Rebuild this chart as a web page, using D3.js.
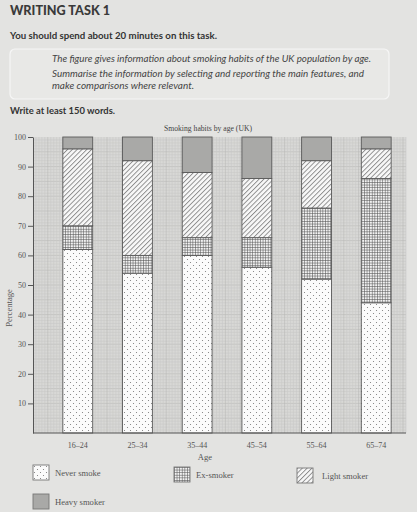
<!DOCTYPE html>
<html>
<head>
<meta charset="utf-8">
<script src="https://cdn.jsdelivr.net/npm/d3@7"></script>
<style>
  html, body { margin: 0; padding: 0; background: #e3e3e1; }
  svg { display: block; }
</style>
</head>
<body>
<svg id="chart" width="417" height="512"></svg>
<script>
// Data (percent of each age group)
const ages = ["16–24", "25–34", "35–44", "45–54", "55–64", "65–74"];
const neverSmoke = [62, 54, 60, 56, 52, 44];
const exSmoker = [8, 6, 6, 10, 24, 42];
const lightSmoker = [26, 32, 22, 20, 16, 10];
const heavySmoker = [4, 8, 12, 14, 8, 4];
const yTicks = [10, 20, 30, 40, 50, 60, 70, 80, 90, 100];
const seriesNames = ["Never smoke", "Ex-smoker", "Light smoker", "Heavy smoker"];

const svg = d3.select("#chart");
const serif = "'Liberation Serif', 'DejaVu Serif', serif";
const sans = "Lato, 'Open Sans', sans-serif";

// Page header
svg.append("text")
  .attr("x", 10).attr("y", 15)
  .attr("font-family", sans).attr("font-weight", 900)
  .attr("font-size", 13).attr("fill", "#3a3a3a")
  .attr("textLength", 100).attr("lengthAdjust", "spacingAndGlyphs")
  .text("WRITING TASK 1");

svg.append("text")
  .attr("x", 10).attr("y", 39)
  .attr("font-family", sans).attr("font-weight", 700)
  .attr("font-size", 9.3).attr("fill", "#333")
  .attr("textLength", 207).attr("lengthAdjust", "spacingAndGlyphs")
  .text("You should spend about 20 minutes on this task.");

svg.append("rect")
  .attr("x", 10).attr("y", 49).attr("width", 379).attr("height", 50)
  .attr("rx", 5)
  .attr("fill", "#e8e8e6").attr("stroke", "#f6f6f6").attr("stroke-width", 1.2);

const prompt = [
  "The figure gives information about smoking habits of the UK population by age.",
  "Summarise the information by selecting and reporting the main features, and",
  "make comparisons where relevant."
];
const promptY = [62, 77, 89];
const promptW = [319, 312, 142];
svg.selectAll(".prompt")
  .data(prompt)
  .join("text")
  .attr("class", "prompt")
  .attr("x", 52)
  .attr("y", (d, i) => promptY[i])
  .attr("font-family", sans).attr("font-style", "italic")
  .attr("font-size", 9.6).attr("fill", "#444")
  .attr("textLength", (d, i) => promptW[i]).attr("lengthAdjust", "spacingAndGlyphs")
  .text(d => d);

svg.append("text")
  .attr("x", 10).attr("y", 113.5)
  .attr("font-family", sans).attr("font-weight", 700)
  .attr("font-size", 9.3).attr("fill", "#333")
  .attr("textLength", 105).attr("lengthAdjust", "spacingAndGlyphs")
  .text("Write at least 150 words.");

// Chart
const plotLeft = 33, plotRight = 406, plotTop = 137, plotBottom = 433;

const x = d3.scaleBand()
  .domain(ages)
  .range([plotLeft, 421])
  .paddingInner(0.5)
  .paddingOuter(0.5);

const y = d3.scaleLinear()
  .domain([0, 100])
  .range([plotBottom, plotTop]);

// Graph paper background
const grid = svg.append("g");
grid.append("rect")
  .attr("x", plotLeft).attr("y", plotTop)
  .attr("width", plotRight - plotLeft).attr("height", plotBottom - plotTop)
  .attr("fill", "#d8d8d6");

const unit = y(0) - y(1);
const gx = d3.scaleLinear().domain([0, 1]).range([plotLeft, plotLeft + unit]);
const nCols = Math.floor((plotRight - plotLeft) / unit);

grid.selectAll(".hline")
  .data(d3.range(1, 100))
  .join("line")
  .attr("x1", plotLeft).attr("x2", plotRight)
  .attr("y1", d => y(d)).attr("y2", d => y(d))
  .attr("stroke", d => d % 5 === 0 ? "#b9b9b7" : "#c9c9c7")
  .attr("stroke-width", 0.6);

grid.selectAll(".vline")
  .data(d3.range(1, nCols + 1))
  .join("line")
  .attr("x1", d => gx(d)).attr("x2", d => gx(d))
  .attr("y1", plotTop).attr("y2", plotBottom)
  .attr("stroke", d => d % 5 === 0 ? "#b9b9b7" : "#c9c9c7")
  .attr("stroke-width", 0.6);

// Fill patterns
const defs = svg.append("defs");

const dots = defs.append("pattern")
  .attr("id", "dots").attr("patternUnits", "userSpaceOnUse")
  .attr("width", 6).attr("height", 6);
dots.append("rect").attr("width", 6).attr("height", 6).attr("fill", "#fbfbfb");
dots.append("circle").attr("cx", 1.5).attr("cy", 1.5).attr("r", 0.55).attr("fill", "#777");
dots.append("circle").attr("cx", 4.5).attr("cy", 4.5).attr("r", 0.55).attr("fill", "#777");

const cross = defs.append("pattern")
  .attr("id", "cross").attr("patternUnits", "userSpaceOnUse")
  .attr("width", 2.6).attr("height", 2.6);
cross.append("rect").attr("width", 2.6).attr("height", 2.6).attr("fill", "#f2f2f2");
cross.append("path").attr("d", "M0,0.3H2.6M0.3,0V2.6")
  .attr("stroke", "#555").attr("stroke-width", 0.65);

const diag = defs.append("pattern")
  .attr("id", "diag").attr("patternUnits", "userSpaceOnUse")
  .attr("width", 3.4).attr("height", 3.4)
  .attr("patternTransform", "rotate(45)");
diag.append("rect").attr("width", 3.4).attr("height", 3.4).attr("fill", "#f8f8f8");
diag.append("line").attr("x1", 0.5).attr("x2", 0.5).attr("y1", 0).attr("y2", 3.4)
  .attr("stroke", "#666").attr("stroke-width", 0.7);

const fills = ["url(#dots)", "url(#cross)", "url(#diag)", "#a9a9a7"];

// Stacked bars
const rows = ages.map((age, i) => ({
  age: age,
  "Never smoke": neverSmoke[i],
  "Ex-smoker": exSmoker[i],
  "Light smoker": lightSmoker[i],
  "Heavy smoker": heavySmoker[i]
}));
const stacked = d3.stack().keys(seriesNames)(rows);

svg.append("g")
  .selectAll("g")
  .data(stacked)
  .join("g")
  .attr("fill", (d, i) => fills[i])
  .selectAll("rect")
  .data(d => d)
  .join("rect")
  .attr("x", d => x(d.data.age))
  .attr("y", d => y(d[1]))
  .attr("width", x.bandwidth())
  .attr("height", d => y(d[0]) - y(d[1]))
  .attr("stroke", "#5a5a5a")
  .attr("stroke-width", 0.9);

// Axes
const yAxis = svg.append("g")
  .attr("transform", `translate(${plotLeft},0)`)
  .call(d3.axisLeft(y).tickValues(yTicks).tickSize(5).tickPadding(2).tickSizeOuter(0));
yAxis.select(".domain").attr("stroke", "#555");
yAxis.selectAll(".tick line").attr("stroke", "#555");
yAxis.selectAll("text")
  .attr("font-family", serif).attr("font-size", 8).attr("fill", "#555");

svg.append("line")
  .attr("x1", plotLeft).attr("x2", plotRight)
  .attr("y1", y(0)).attr("y2", y(0))
  .attr("stroke", "#555").attr("stroke-width", 1);

const xAxis = svg.append("g")
  .attr("transform", `translate(0,${plotBottom})`)
  .call(d3.axisBottom(x).tickSize(0).tickPadding(9));
xAxis.select(".domain").remove();
xAxis.selectAll("text")
  .attr("font-family", serif).attr("font-size", 8).attr("fill", "#555");

svg.append("text")
  .attr("x", 164).attr("y", 131)
  .attr("font-family", serif).attr("font-size", 8.3).attr("fill", "#444")
  .attr("textLength", 88).attr("lengthAdjust", "spacingAndGlyphs")
  .text("Smoking habits by age (UK)");

svg.append("text")
  .attr("x", 205).attr("y", 460)
  .attr("text-anchor", "middle")
  .attr("font-family", serif).attr("font-size", 8.6).attr("fill", "#555")
  .text("Age");

svg.append("text")
  .attr("transform", "translate(12,308) rotate(-90)")
  .attr("text-anchor", "middle")
  .attr("font-family", serif).attr("font-size", 8.6).attr("fill", "#555")
  .text("Percentage");

// Legend
const legendPos = [[33, 465], [174, 467], [297, 468], [33, 494]];
const legend = svg.append("g")
  .selectAll("g")
  .data(seriesNames)
  .join("g")
  .attr("transform", (d, i) => `translate(${legendPos[i][0]},${legendPos[i][1]})`);
legend.append("rect")
  .attr("width", 16).attr("height", 15)
  .attr("fill", (d, i) => fills[i])
  .attr("stroke", "#777").attr("stroke-width", 0.9);
legend.append("text")
  .attr("x", (d, i) => i === 2 ? 25 : 22)
  .attr("y", 10.5)
  .attr("font-family", serif).attr("font-size", 8.6).attr("fill", "#555")
  .text(d => d);
</script>
</body>
</html>
